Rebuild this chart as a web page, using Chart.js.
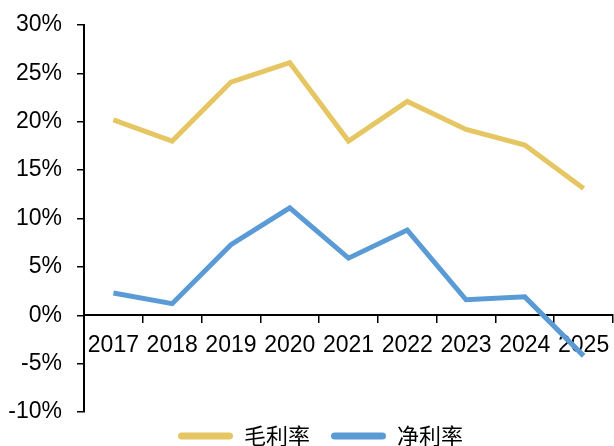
<!DOCTYPE html>
<html lang="zh">
<head>
    <meta charset="UTF-8">
    <title>毛利率 / 净利率</title>
    <script src="https://cdn.jsdelivr.net/npm/chart.js"></script>
    <style>
        body {
            margin: 0;
            background: #fff;
        }
        #chart {
            display: block;
        }
    </style>
</head>
<body>
    <canvas id="chart" width="614" height="446"></canvas>
    <script>
        // years and margin series (%)
        const years = ['2017', '2018', '2019', '2020', '2021', '2022', '2023', '2024', '2025'];
        const grossMargin = [20.2, 18.0, 24.1, 26.1, 18.0, 22.1, 19.2, 17.6, 13.1];
        const netMargin = [2.3, 1.2, 7.3, 11.1, 5.9, 8.8, 1.6, 1.9, -4.2];

        const gold = '#E6C563';
        const blue = '#5B9BD5';
        const numFont = { family: "'Liberation Sans', Arial, sans-serif", size: 23 };

        // short legend strip under the plot; its box grows upward (bottom stays
        // at the canvas edge so the clip doesn't cut the text) and shifts right
        const legendPlacement = {
            id: 'legendPlacement',
            beforeInit(chart) {
                const fit = chart.legend.fit;
                chart.legend.fit = function () {
                    fit.call(this);
                    this.height = 34;
                };
            },
            afterLayout(chart) {
                const lg = chart.legend;
                lg.left += 14;
                lg.right += 14;
                lg.top -= 8;
            }
        };

        const ctx = document.getElementById('chart').getContext('2d');
        new Chart(ctx, {
            type: 'line',
            data: {
                labels: years,
                datasets: [
                    {
                        label: '毛利率',
                        data: grossMargin,
                        borderColor: gold,
                        backgroundColor: gold,
                        borderWidth: 5,
                        pointRadius: 0,
                        tension: 0
                    },
                    {
                        label: '净利率',
                        data: netMargin,
                        borderColor: blue,
                        backgroundColor: blue,
                        borderWidth: 5,
                        pointRadius: 0,
                        tension: 0
                    }
                ]
            },
            options: {
                responsive: false,
                animation: false,
                layout: {
                    padding: { top: 25, right: 1, left: 0, bottom: 0 }
                },
                scales: {
                    x: {
                        position: { y: 0 },
                        offset: true,
                        afterFit: scale => {
                            scale.paddingLeft = 0;
                            scale.paddingRight = 0;
                        },
                        grid: {
                            offset: true,
                            drawOnChartArea: false,
                            drawTicks: true,
                            tickLength: 7,
                            color: '#000',
                            lineWidth: 1.5
                        },
                        border: { display: true, color: '#000', width: 2 },
                        ticks: {
                            color: '#000',
                            font: numFont,
                            padding: 10,
                            maxRotation: 0,
                            autoSkip: false
                        }
                    },
                    y: {
                        min: -10,
                        max: 30,
                        afterFit: scale => {
                            scale.width = 84;
                            scale.paddingTop = 0;
                            scale.paddingBottom = 0;
                        },
                        grid: {
                            drawOnChartArea: false,
                            drawTicks: true,
                            tickLength: 7,
                            color: '#000',
                            lineWidth: 1.5
                        },
                        border: { display: true, color: '#000', width: 2 },
                        ticks: {
                            stepSize: 5,
                            color: '#000',
                            font: numFont,
                            padding: 15,
                            callback: v => v + '%'
                        }
                    }
                },
                plugins: {
                    tooltip: { enabled: false },
                    legend: {
                        position: 'bottom',
                        labels: {
                            color: '#000',
                            font: { family: "'Noto Sans CJK SC', sans-serif", size: 22 },
                            boxWidth: 55,
                            boxHeight: 7,
                            useBorderRadius: true,
                            borderRadius: 3.5,
                            padding: 21,
                            generateLabels: chart =>
                                Chart.defaults.plugins.legend.labels.generateLabels(chart)
                                    .map(item => ({ ...item, lineWidth: 0 }))
                        }
                    }
                }
            },
            plugins: [legendPlacement]
        });
    </script>
</body>
</html>
